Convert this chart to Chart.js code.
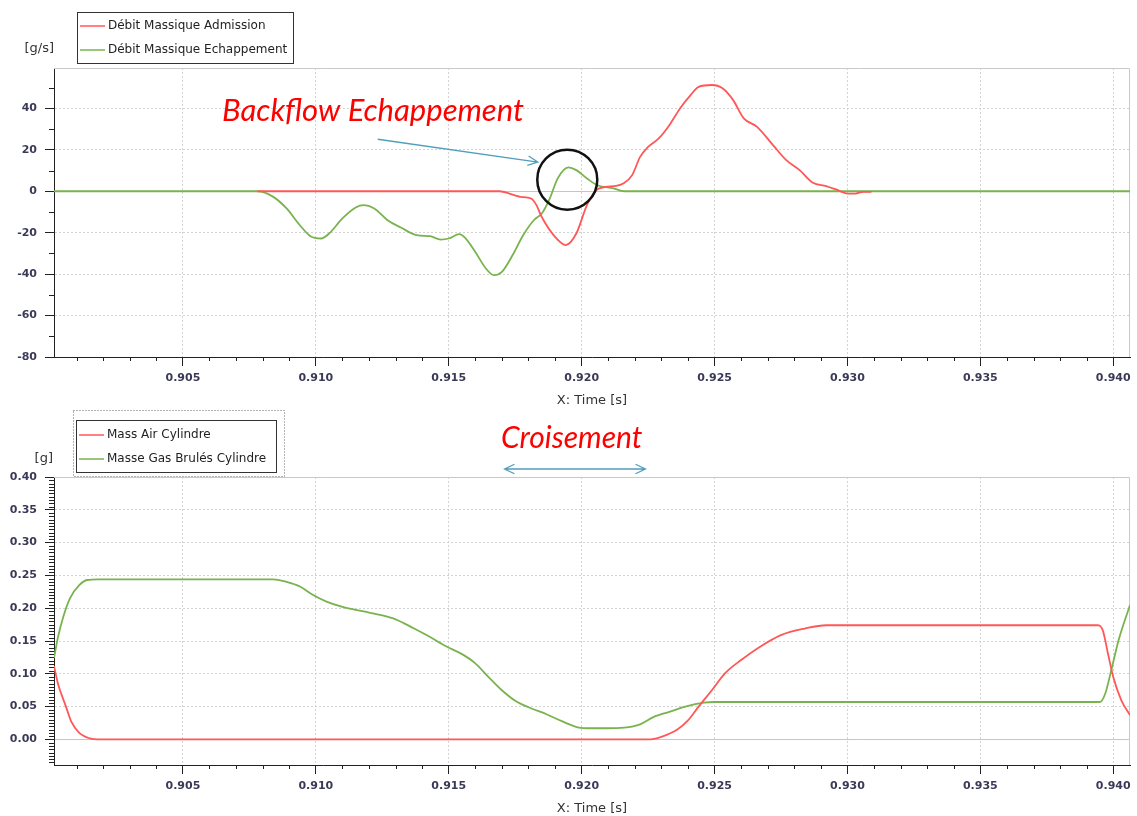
<!DOCTYPE html>
<html>
<head>
<meta charset="utf-8">
<title>Débit massique et masse cylindre</title>
<script src="https://cdn.jsdelivr.net/npm/chart.js@4.4.1/dist/chart.umd.min.js"></script>
<style>
    html, body { margin: 0; padding: 0; background: #fff; }
    .panel { position: absolute; left: 0; width: 1137px; height: 408px; }
    #top-panel { top: 0; }
    #bottom-panel { top: 408px; }
</style>
</head>
<body>
<div class="panel" id="top-panel"><canvas id="flowChart"></canvas></div>
<div class="panel" id="bottom-panel"><canvas id="massChart"></canvas></div>
<script>
// Shared time window [s]
const timeMin = 0.90015;
const timeMax = 0.94063;
const timeTicks = [0.905, 0.910, 0.915, 0.920, 0.925, 0.930, 0.935, 0.940];

// Top plot: mass flow [g/s]
const flowMin = -80;
const flowMax = 59.5;
const flowTicks = [-80, -60, -40, -20, 0, 20, 40];

const admissionTime = [0.9078, 0.9169, 0.9177, 0.9181, 0.9183, 0.9185, 0.9190, 0.9194, 0.9198, 0.9202,
    0.92055, 0.9209, 0.9213, 0.9216, 0.9219, 0.9222, 0.9225, 0.9229, 0.9233, 0.9237,
    0.9241, 0.9244, 0.9249, 0.9253, 0.9257, 0.9261, 0.9266, 0.9272, 0.9277, 0.9282,
    0.9287, 0.9292, 0.9297, 0.9300, 0.9303, 0.9306, 0.9309];
const admissionFlow = [0, 0, -2.7, -3.5, -6.7, -12.4, -22, -26, -20.4, -6.7,
    0.5, 2.1, 2.6, 4, 7.8, 16.6, 21.4, 25.5, 31.9, 40,
    46.4, 50.4, 51.3, 49.7, 44, 35.2, 31.1, 22.3, 15, 10.2,
    4.1, 2.5, 0.2, -1.1, -1.1, -0.3, -0.3];

const exhaustTime = [0.90015, 0.9078, 0.9084, 0.9089, 0.9094, 0.9098, 0.9102, 0.9105, 0.9110, 0.9115,
    0.9118, 0.9122, 0.9127, 0.9132, 0.9138, 0.9143, 0.9147, 0.9150, 0.9154, 0.9156,
    0.9160, 0.9164, 0.9167, 0.9170, 0.9174, 0.9178, 0.9182, 0.9185, 0.9188, 0.9191,
    0.9195, 0.9198, 0.9202, 0.9206, 0.9212, 0.9216, 0.94063];
const exhaustFlow = [0, 0, -2.7, -8.3, -16.4, -21.7, -22.8, -20.4, -13.1, -7.8,
    -6.7, -8.3, -14, -17.5, -21.2, -21.7, -23.3, -22.8, -20.7, -22.3,
    -29.3, -37.3, -40.5, -38.9, -30.9, -21.2, -14, -10.7, -3.5, 6.2,
    11.5, 10.2, 6.2, 2.9, 1.4, 0, 0];

// Bottom plot: mass trapped in the cylinder [g]
const massMin = -0.039;
const massMax = 0.40;
const massTicks = [0, 0.05, 0.10, 0.15, 0.20, 0.25, 0.30, 0.35, 0.40];

const airTime = [0.90015, 0.9003, 0.9006, 0.9008, 0.9011, 0.9015, 0.9018, 0.9225, 0.9230, 0.9236,
    0.9240, 0.9244, 0.9249, 0.9254, 0.9260, 0.9267, 0.9275, 0.9284, 0.9292, 0.9394,
    0.9396, 0.9398, 0.9400, 0.9403, 0.94063];
const airMass = [0.112, 0.085, 0.050, 0.027, 0.010, 0.0015, 0, 0, 0.004, 0.015,
    0.029, 0.050, 0.075, 0.101, 0.121, 0.141, 0.159, 0.169, 0.174, 0.174,
    0.167, 0.131, 0.095, 0.060, 0.037];

const gasTime = [0.90015, 0.9003, 0.9005, 0.90075, 0.9011, 0.9014, 0.9018, 0.9084, 0.9089, 0.9094,
    0.9099, 0.9104, 0.9110, 0.9118, 0.9125, 0.9130, 0.9137, 0.9143, 0.9149, 0.9155,
    0.9160, 0.9165, 0.9170, 0.9175, 0.9180, 0.9187, 0.9193, 0.9199, 0.9203, 0.9209,
    0.9216, 0.9222, 0.9227, 0.9233, 0.9239, 0.9246, 0.9250, 0.9395, 0.9397, 0.9399,
    0.9402, 0.94063];
const gasMass = [0.124, 0.156, 0.187, 0.215, 0.235, 0.243, 0.244, 0.244, 0.240, 0.233,
    0.220, 0.210, 0.202, 0.195, 0.189, 0.183, 0.169, 0.156, 0.142, 0.130,
    0.116, 0.095, 0.075, 0.059, 0.049, 0.038, 0.027, 0.018, 0.017, 0.017,
    0.018, 0.023, 0.034, 0.042, 0.050, 0.056, 0.057, 0.057, 0.070, 0.101,
    0.151, 0.205];

const INK = '#222';
const LABEL_INK = '#3a3a58';
const GRID = '#d3d3d3';
const ZERO_LINE = '#c6c6c6';
const RED = '#ff5757';
const GREEN = '#78b34e';
const NOTE_RED = '#ff0000';
const NOTE_BLUE = '#4f9fbb';

function pairs(xs, ys) {
    return xs.map((x, i) => ({ x: x, y: ys[i] }));
}

// Minor tick positions between the labelled ones
function minorValues(from, to, step, majors) {
    const out = [];
    const n = Math.round((to - from) / step);
    for (let k = 0; k <= n; k++) {
        const v = from + k * step;
        if (!majors.some(m => Math.abs(m - v) < step / 10)) out.push(v);
    }
    return out;
}

function arrowHead(ctx, x, y, angle) {
    const len = 11, spread = 0.45;
    ctx.moveTo(x - len * Math.cos(angle - spread), y - len * Math.sin(angle - spread));
    ctx.lineTo(x, y);
    ctx.lineTo(x - len * Math.cos(angle + spread), y - len * Math.sin(angle + spread));
}

function drawLegend(chart, box) {
    const ctx = chart.ctx;
    ctx.save();
    if (box.outer) {
        ctx.strokeStyle = '#666';
        ctx.lineWidth = 1;
        ctx.setLineDash([1, 2]);
        ctx.strokeRect(box.outer.x + 0.5, box.outer.y + 0.5, box.outer.w, box.outer.h);
        ctx.setLineDash([]);
    }
    ctx.fillStyle = '#fff';
    ctx.fillRect(box.x, box.y, box.w, box.h);
    ctx.strokeStyle = '#333';
    ctx.lineWidth = 1;
    ctx.strokeRect(box.x + 0.5, box.y + 0.5, box.w, box.h);
    ctx.font = '12px "DejaVu Sans"';
    ctx.textBaseline = 'middle';
    chart.data.datasets.forEach((ds, i) => {
        const y = box.rows[i];
        ctx.strokeStyle = ds.borderColor;
        ctx.lineWidth = 1.5;
        ctx.beginPath();
        ctx.moveTo(box.x + 3, y);
        ctx.lineTo(box.x + 28, y);
        ctx.stroke();
        ctx.fillStyle = INK;
        ctx.fillText(ds.label, box.x + 31, y);
    });
    ctx.restore();
}

// Frame, minor ticks, legend, unit and notes for one scope panel
function scopePlugin(cfg) {
    return {
        id: 'scope',
        beforeDatasetsDraw(chart) {
            const { ctx, chartArea: a } = chart;
            ctx.save();
            ctx.strokeStyle = '#c9c9c9';
            ctx.lineWidth = 1;
            ctx.beginPath();
            ctx.moveTo(a.left, a.top + 0.5);
            ctx.lineTo(a.right - 0.5, a.top + 0.5);
            ctx.lineTo(a.right - 0.5, a.bottom);
            ctx.stroke();
            ctx.restore();
        },
        afterDraw(chart) {
            const { ctx, chartArea: a, scales } = chart;
            ctx.save();
            ctx.strokeStyle = INK;
            ctx.lineWidth = 1;
            ctx.beginPath();
            cfg.xMinor.forEach(v => {
                const x = Math.round(scales.x.getPixelForValue(v)) + 0.5;
                ctx.moveTo(x, a.bottom);
                ctx.lineTo(x, a.bottom + 4);
            });
            cfg.yMinor.forEach(v => {
                const y = Math.round(scales.y.getPixelForValue(v)) + 0.5;
                ctx.moveTo(a.left - 5, y);
                ctx.lineTo(a.left, y);
            });
            ctx.stroke();

            ctx.fillStyle = '#333';
            ctx.font = '13px "DejaVu Sans"';
            ctx.textAlign = 'right';
            ctx.textBaseline = 'middle';
            ctx.fillText(cfg.unit.text, cfg.unit.x, cfg.unit.y);
            ctx.restore();

            drawLegend(chart, cfg.legend);
            cfg.notes(chart);
        }
    };
}

function scopeOptions(yMin, yMax, yTicks, yFormat) {
    const gridColor = c => (c.tick && c.tick.value === 0 ? ZERO_LINE : GRID);
    const gridDash = c => (c.tick && c.tick.value === 0 ? [] : [2, 2]);
    const tickFont = { family: 'DejaVu Sans', size: 11, weight: 'bold' };
    return {
        responsive: true,
        maintainAspectRatio: false,
        animation: false,
        events: [],
        layout: { padding: { top: 68, right: 7, bottom: 0, left: 0 } },
        plugins: { legend: { display: false }, tooltip: { enabled: false } },
        elements: { point: { radius: 0 }, line: { borderWidth: 1.8, cubicInterpolationMode: 'monotone' } },
        scales: {
            x: {
                type: 'linear',
                min: timeMin,
                max: timeMax,
                afterBuildTicks: s => { s.ticks = timeTicks.map(v => ({ value: v })); },
                afterFit: s => { s.height = 51; },
                ticks: {
                    autoSkip: false,
                    maxRotation: 0,
                    padding: 6,
                    color: LABEL_INK,
                    font: tickFont,
                    callback: v => Number(v).toFixed(3)
                },
                grid: { color: gridColor, tickColor: INK, tickLength: 9, lineWidth: 1 },
                border: { display: true, color: INK, width: 1, dash: gridDash },
                title: {
                    display: true,
                    text: 'X: Time [s]',
                    color: '#333',
                    font: { family: 'DejaVu Sans', size: 13 },
                    padding: { top: 0, bottom: 0 }
                }
            },
            y: {
                type: 'linear',
                min: yMin,
                max: yMax,
                afterBuildTicks: s => { s.ticks = yTicks.map(v => ({ value: v })); },
                afterFit: s => { s.width = 54; },
                ticks: {
                    autoSkip: false,
                    padding: 8,
                    color: LABEL_INK,
                    font: tickFont,
                    callback: yFormat
                },
                grid: { color: gridColor, tickColor: INK, tickLength: 9, lineWidth: 1 },
                border: { display: true, color: INK, width: 1, dash: gridDash }
            }
        }
    };
}

// Backflow marker on the mass-flow plot
function flowNotes(chart) {
    const { ctx, scales } = chart;
    ctx.save();
    ctx.fillStyle = NOTE_RED;
    ctx.font = 'italic 31px Lato';
    ctx.textAlign = 'left';
    ctx.textBaseline = 'middle';
    ctx.fillText('Backflow Echappement', 222, 111);

    const x1 = scales.x.getPixelForValue(0.91233), y1 = scales.y.getPixelForValue(25.1);
    const x2 = scales.x.getPixelForValue(0.91835), y2 = scales.y.getPixelForValue(14.1);
    ctx.strokeStyle = NOTE_BLUE;
    ctx.lineWidth = 1.3;
    ctx.beginPath();
    ctx.moveTo(x1, y1);
    ctx.lineTo(x2, y2);
    arrowHead(ctx, x2, y2, Math.atan2(y2 - y1, x2 - x1));
    ctx.stroke();

    ctx.strokeStyle = '#111';
    ctx.lineWidth = 2.5;
    ctx.beginPath();
    ctx.arc(scales.x.getPixelForValue(0.91946), scales.y.getPixelForValue(5.6), 30, 0, Math.PI * 2);
    ctx.stroke();
    ctx.restore();
}

// Valve overlap span on the cylinder-mass plot
function massNotes(chart) {
    const { ctx, scales, chartArea: a } = chart;
    ctx.save();
    ctx.fillStyle = NOTE_RED;
    ctx.font = 'italic 30px Lato';
    ctx.textAlign = 'left';
    ctx.textBaseline = 'middle';
    ctx.fillText('Croisement', 501, 30);

    const xa = scales.x.getPixelForValue(0.9171);
    const xb = scales.x.getPixelForValue(0.9224);
    const y = a.top - 8;
    ctx.strokeStyle = NOTE_BLUE;
    ctx.lineWidth = 1.3;
    ctx.beginPath();
    ctx.moveTo(xa, y);
    ctx.lineTo(xb, y);
    arrowHead(ctx, xb, y, 0);
    arrowHead(ctx, xa, y, Math.PI);
    ctx.stroke();
    ctx.restore();
}

const xMinor = minorValues(0.901, 0.940, 0.001, timeTicks);

const flowOptions = scopeOptions(flowMin, flowMax, flowTicks, v => String(v));
new Chart(document.getElementById('flowChart'), {
    type: 'line',
    data: {
        datasets: [
            { label: 'Débit Massique Admission', data: pairs(admissionTime, admissionFlow), borderColor: RED },
            { label: 'Débit Massique Echappement', data: pairs(exhaustTime, exhaustFlow), borderColor: GREEN }
        ]
    },
    options: flowOptions,
    plugins: [scopePlugin({
        xMinor: xMinor,
        yMinor: minorValues(-70, 50, 10, flowTicks),
        unit: { text: '[g/s]', x: 54, y: 49 },
        legend: { x: 77, y: 12, w: 216, h: 51, rows: [26, 50] },
        notes: flowNotes
    })]
});

const massOptions = scopeOptions(massMin, massMax, massTicks, v => Number(v).toFixed(2));
massOptions.layout.padding.top = 69;
new Chart(document.getElementById('massChart'), {
    type: 'line',
    data: {
        datasets: [
            { label: 'Mass Air Cylindre', data: pairs(airTime, airMass), borderColor: RED },
            { label: 'Masse Gas Brulés Cylindre', data: pairs(gasTime, gasMass), borderColor: GREEN }
        ]
    },
    options: massOptions,
    plugins: [scopePlugin({
        xMinor: xMinor,
        yMinor: minorValues(-0.035, 0.395, 0.005, massTicks),
        unit: { text: '[g]', x: 53, y: 51 },
        legend: { x: 76, y: 12, w: 200, h: 52, rows: [27, 51], outer: { x: 73, y: 2, w: 211, h: 66 } },
        notes: massNotes
    })]
});
</script>
</body>
</html>
